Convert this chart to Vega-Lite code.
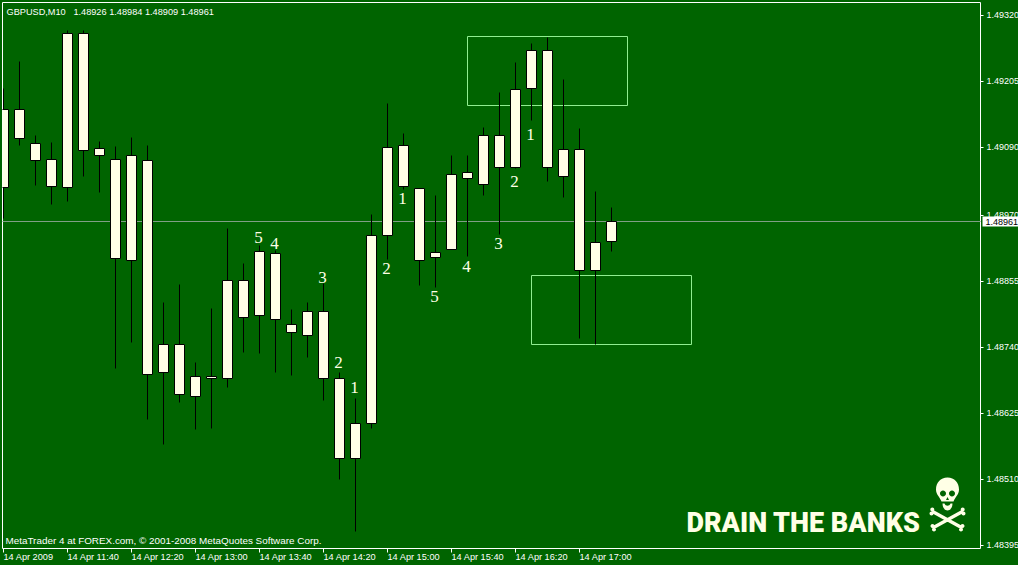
{
"$schema":"https://vega.github.io/schema/vega-lite/v6.json",
"width":978,"height":546,
"autosize":{"type":"none"},
"padding":{"left":2.5,"top":2.5,"right":37.5,"bottom":16.5},
"background":"#006400",
"view":{"fill":"#006400","stroke":null},
"config":{"font":"Liberation Sans"},
"datasets":{
"candles":[
{"t":"2009-04-14T11:00:00Z","high":1.49193,"top":1.49155,"bottom":1.49019,"low":1.48966},
{"t":"2009-04-14T11:10:00Z","high":1.49240,"top":1.49155,"bottom":1.49105,"low":1.49093},
{"t":"2009-04-14T11:20:00Z","high":1.49111,"top":1.49097,"bottom":1.49067,"low":1.49023},
{"t":"2009-04-14T11:30:00Z","high":1.49098,"top":1.49068,"bottom":1.49021,"low":1.48990},
{"t":"2009-04-14T11:40:00Z","high":1.49294,"top":1.49288,"bottom":1.49019,"low":1.48995},
{"t":"2009-04-14T11:50:00Z","high":1.49294,"top":1.49288,"bottom":1.49084,"low":1.49039},
{"t":"2009-04-14T12:00:00Z","high":1.49100,"top":1.49087,"bottom":1.49075,"low":1.49011},
{"t":"2009-04-14T12:10:00Z","high":1.49091,"top":1.49068,"bottom":1.48895,"low":1.48704},
{"t":"2009-04-14T12:20:00Z","high":1.49107,"top":1.49075,"bottom":1.48893,"low":1.48749},
{"t":"2009-04-14T12:30:00Z","high":1.49093,"top":1.49066,"bottom":1.48694,"low":1.48615},
{"t":"2009-04-14T12:40:00Z","high":1.48819,"top":1.48745,"bottom":1.48696,"low":1.48571},
{"t":"2009-04-14T12:50:00Z","high":1.48851,"top":1.48745,"bottom":1.48659,"low":1.48645},
{"t":"2009-04-14T13:00:00Z","high":1.48714,"top":1.48689,"bottom":1.48654,"low":1.48597},
{"t":"2009-04-14T13:10:00Z","high":1.48809,"top":1.48689,"bottom":1.48686,"low":1.48599},
{"t":"2009-04-14T13:20:00Z","high":1.48948,"top":1.48857,"bottom":1.48686,"low":1.48671},
{"t":"2009-04-14T13:30:00Z","high":1.48887,"top":1.48857,"bottom":1.48792,"low":1.48732},
{"t":"2009-04-14T13:40:00Z","high":1.48919,"top":1.48907,"bottom":1.48796,"low":1.48730},
{"t":"2009-04-14T13:50:00Z","high":1.48910,"top":1.48904,"bottom":1.48790,"low":1.48697},
{"t":"2009-04-14T14:00:00Z","high":1.48807,"top":1.48780,"bottom":1.48766,"low":1.48692},
{"t":"2009-04-14T14:10:00Z","high":1.48819,"top":1.48804,"bottom":1.48761,"low":1.48723},
{"t":"2009-04-14T14:20:00Z","high":1.48852,"top":1.48804,"bottom":1.48686,"low":1.48648},
{"t":"2009-04-14T14:30:00Z","high":1.48697,"top":1.48686,"bottom":1.48546,"low":1.48510},
{"t":"2009-04-14T14:40:00Z","high":1.48652,"top":1.48607,"bottom":1.48546,"low":1.48419},
{"t":"2009-04-14T14:50:00Z","high":1.48973,"top":1.48935,"bottom":1.48607,"low":1.48599},
{"t":"2009-04-14T15:00:00Z","high":1.49166,"top":1.49090,"bottom":1.48935,"low":1.48894},
{"t":"2009-04-14T15:10:00Z","high":1.49114,"top":1.49092,"bottom":1.49021,"low":1.49016},
{"t":"2009-04-14T15:20:00Z","high":1.49017,"top":1.49017,"bottom":1.48893,"low":1.48849},
{"t":"2009-04-14T15:30:00Z","high":1.49006,"top":1.48906,"bottom":1.48897,"low":1.48845},
{"t":"2009-04-14T15:40:00Z","high":1.49076,"top":1.49043,"bottom":1.48911,"low":1.48911},
{"t":"2009-04-14T15:50:00Z","high":1.49076,"top":1.49045,"bottom":1.49035,"low":1.48899},
{"t":"2009-04-14T16:00:00Z","high":1.49125,"top":1.49110,"bottom":1.49024,"low":1.49006},
{"t":"2009-04-14T16:10:00Z","high":1.49186,"top":1.49110,"bottom":1.49054,"low":1.48938},
{"t":"2009-04-14T16:20:00Z","high":1.49238,"top":1.49190,"bottom":1.49054,"low":1.49053},
{"t":"2009-04-14T16:30:00Z","high":1.49271,"top":1.49258,"bottom":1.49192,"low":1.49137},
{"t":"2009-04-14T16:40:00Z","high":1.49282,"top":1.49258,"bottom":1.49054,"low":1.49030},
{"t":"2009-04-14T16:50:00Z","high":1.49208,"top":1.49085,"bottom":1.49038,"low":1.49002},
{"t":"2009-04-14T17:00:00Z","high":1.49123,"top":1.49085,"bottom":1.48874,"low":1.48756},
{"t":"2009-04-14T17:10:00Z","high":1.49013,"top":1.48923,"bottom":1.48874,"low":1.48746},
{"t":"2009-04-14T17:20:00Z","high":1.48985,"top":1.48960,"bottom":1.48925,"low":1.48908}
],
"boxes":[
{"t1":"2009-04-14T15:50:00Z","t2":"2009-04-14T17:30:00Z","p1":1.49283,"p2":1.49162},
{"t1":"2009-04-14T16:30:00Z","t2":"2009-04-14T18:10:00Z","p1":1.48866,"p2":1.48745}
],
"waves":[
{"t":"2009-04-14T13:40:00Z","p":1.48933,"n":"5"},
{"t":"2009-04-14T13:50:00Z","p":1.48922,"n":"4"},
{"t":"2009-04-14T14:20:00Z","p":1.48863,"n":"3"},
{"t":"2009-04-14T14:30:00Z","p":1.48714,"n":"2"},
{"t":"2009-04-14T14:40:00Z","p":1.48671,"n":"1"},
{"t":"2009-04-14T15:00:00Z","p":1.48878,"n":"2"},
{"t":"2009-04-14T15:10:00Z","p":1.49001,"n":"1"},
{"t":"2009-04-14T15:30:00Z","p":1.48830,"n":"5"},
{"t":"2009-04-14T15:50:00Z","p":1.48882,"n":"4"},
{"t":"2009-04-14T16:10:00Z","p":1.48922,"n":"3"},
{"t":"2009-04-14T16:20:00Z","p":1.49030,"n":"2"},
{"t":"2009-04-14T16:30:00Z","p":1.49112,"n":"1"}
]
},
"layer":[
{"data":{"values":[{"t1":"2009-04-14T10:59:22.500Z","t2":"2009-04-14T21:10:37.500Z","p1":1.4934243,"p2":1.4838950}]},"mark":{"type":"rect","fillOpacity":0,"stroke":"#FFFFFF","strokeWidth":1,"clip":false},
 "encoding":{"x":{"field":"t1","type":"temporal","scale":{"domain":["2009-04-14T10:59:22.500Z","2009-04-14T21:10:37.500Z"]}},"x2":{"field":"t2"},"y":{"field":"p1","type":"quantitative"},"y2":{"field":"p2"}}},
{"data":{"values":[{"p":1.48961}]},"mark":{"type":"rule","color":"#7F9F85","strokeWidth":1},
 "encoding":{"y":{"field":"p","type":"quantitative"}}},
{"data":{"name":"boxes"},"mark":{"type":"rect","fillOpacity":0,"stroke":"#90EE90","strokeWidth":1},
 "encoding":{"x":{"field":"t1","type":"temporal","scale":{"domain":["2009-04-14T10:59:22.500Z","2009-04-14T21:10:37.500Z"]}},"x2":{"field":"t2"},"y":{"field":"p1","type":"quantitative"},"y2":{"field":"p2"}}},
{"data":{"name":"candles"},"mark":{"type":"rule","color":"#000000","strokeWidth":1},
 "encoding":{"x":{"field":"t","type":"temporal","scale":{"domain":["2009-04-14T10:59:22.500Z","2009-04-14T21:10:37.500Z"]}},"y":{"field":"high","type":"quantitative"},"y2":{"field":"low"}}},
{"data":{"name":"candles"},"mark":{"type":"bar","size":10,"fill":"#FFFFE6","stroke":"#000000","strokeWidth":1,"clip":true},
 "encoding":{"x":{"field":"t","type":"temporal",
   "scale":{"type":"utc","padding":0,"round":true,"domain":["2009-04-14T10:59:22.500Z","2009-04-14T21:10:37.500Z"]},
   "axis":{"orient":"bottom","title":null,"grid":false,"domain":false,"translate":0,"tickColor":"#FFFFFF","tickSize":4,"labelColor":"#FFFFFF","labelFontSize":9.2,"labelFont":"Liberation Sans","labelAlign":"left","labelBaseline":"middle","labelPadding":4,"labelFlush":false,"labelOverlap":false,
    "values":["2009-04-14T11:00:00Z","2009-04-14T11:40:00Z","2009-04-14T12:20:00Z","2009-04-14T13:00:00Z","2009-04-14T13:40:00Z","2009-04-14T14:20:00Z","2009-04-14T15:00:00Z","2009-04-14T15:40:00Z","2009-04-14T16:20:00Z","2009-04-14T17:00:00Z"],
    "labelExpr":"utchours(datum.value)==11 && utcminutes(datum.value)==0 ? '14 Apr 2009' : utcFormat(datum.value,'%d %b %H:%M')"}},
  "y":{"field":"top","type":"quantitative",
   "scale":{"domain":[1.4838950,1.4934243],"nice":false,"zero":false,"round":true},
   "axis":{"orient":"right","title":null,"grid":false,"domain":false,"translate":0,"tickColor":"#FFFFFF","tickSize":3,"labelColor":"#FFFFFF","labelFontSize":9,"labelFont":"Liberation Sans","labelPadding":3,"labelOffset":-1,"format":".5f","labelOverlap":false,"labelFlush":false,
    "values":[1.4932,1.4926,1.49205,1.49145,1.4909,1.4903,1.4897,1.48915,1.48855,1.488,1.4874,1.4868,1.48625,1.48565,1.4851,1.4845,1.48395]}},
  "y2":{"field":"bottom"}}},
{"data":{"name":"waves"},"mark":{"type":"text","font":"Liberation Serif","fontSize":17,"color":"#FFFFE6","dx":-1,"baseline":"middle"},
 "encoding":{"x":{"field":"t","type":"temporal","scale":{"domain":["2009-04-14T10:59:22.500Z","2009-04-14T21:10:37.500Z"]}},"y":{"field":"p","type":"quantitative"},"text":{"field":"n"}}},
{"data":{"values":[{"t1":"2009-04-14T21:12:00Z","t2":"2009-04-14T21:50:00Z","b":1.48969,"c":1.48952}]},"mark":{"type":"rect","fill":"#FFFFFF","clip":false},
 "encoding":{"x":{"field":"t1","type":"temporal","scale":{"domain":["2009-04-14T10:59:22.500Z","2009-04-14T21:10:37.500Z"]}},"x2":{"field":"t2"},"y":{"field":"b","type":"quantitative"},"y2":{"field":"c"}}},
{"data":{"values":[{"t":"2009-04-14T21:14:00Z","p":1.48961,"s":"1.48961"}]},"mark":{"type":"text","font":"Liberation Sans","fontSize":9,"color":"#000000","align":"left","baseline":"middle","clip":false},
 "encoding":{"x":{"field":"t","type":"temporal","scale":{"domain":["2009-04-14T10:59:22.500Z","2009-04-14T21:10:37.500Z"]}},"y":{"field":"p","type":"quantitative"},"text":{"field":"s"}}},
{"data":{"values":[{"t":"2009-04-14T11:02:10Z","p":1.49327,"s":"GBPUSD,M10\u00a0\u00a0\u00a01.48926 1.48984 1.48909 1.48961","z":9.2},{"t":"2009-04-14T11:01:15Z","p":1.48404,"s":"MetaTrader 4 at FOREX.com, © 2001-2008 MetaQuotes Software Corp.","z":9.9}]},"mark":{"type":"text","font":"Liberation Sans","color":"#FFFFFF","align":"left","baseline":"middle"},
 "encoding":{"x":{"field":"t","type":"temporal","scale":{"domain":["2009-04-14T10:59:22.500Z","2009-04-14T21:10:37.500Z"]}},"y":{"field":"p","type":"quantitative"},"text":{"field":"s"},"size":{"field":"z","type":"quantitative","scale":null}}},
{"data":{"values":[{"t":"2009-04-14T18:06:35Z","p":1.48434,"s":"DRAIN THE BANKS"}]},"mark":{"type":"text","font":"Roboto","fontWeight":900,"fontSize":27,"color":"#FFFFE6","align":"left","baseline":"middle"},
 "encoding":{"x":{"field":"t","type":"temporal","scale":{"domain":["2009-04-14T10:59:22.500Z","2009-04-14T21:10:37.500Z"]}},"y":{"field":"p","type":"quantitative"},"text":{"field":"s"}}},
{"data":{"values":[{"t":"2009-04-14T20:50:00Z","p":1.48468}]},"mark":{"type":"point","filled":true,"fill":"#FFFFE6","opacity":1,"size":4,"strokeWidth":0,
  "shape":"M0,-26 C7,-26 11.5,-21 11.5,-14 C11.5,-9 8,-7 6,-2 L-6,-2 C-8,-7 -11.5,-9 -11.5,-14 C-11.5,-21 -7,-26 0,-26 Z M-7.5,-10 A3,3 0 1 0 -1.5,-10 A3,3 0 1 0 -7.5,-10 Z M1.5,-10 A3,3 0 1 0 7.5,-10 A3,3 0 1 0 1.5,-10 Z M0,-6.5 L-1.5,-3.5 L1.5,-3.5 Z M-5,0 L-3,0 C-2,3 2,3 3,0 L5,0 C5,5 2,7 0,7 C-2,7 -5,5 -5,0 Z M-14.2,6.4 L14.8,22.4 L13.2,25.6 L-15.8,9.6 Z M-14.8,22.4 L14.2,6.4 L15.8,9.6 L-13.2,25.6 Z M-17.2,6 A2,2 0 1 1 -13.2,6 A2,2 0 1 1 -17.2,6 Z M-18,10 A2,2 0 1 1 -14,10 A2,2 0 1 1 -18,10 Z M13.2,6 A2,2 0 1 1 17.2,6 A2,2 0 1 1 13.2,6 Z M14,10 A2,2 0 1 1 18,10 A2,2 0 1 1 14,10 Z M13,22.5 A2,2 0 1 1 17,22.5 A2,2 0 1 1 13,22.5 Z M11.5,26 A2,2 0 1 1 15.5,26 A2,2 0 1 1 11.5,26 Z M-17,22.5 A2,2 0 1 1 -13,22.5 A2,2 0 1 1 -17,22.5 Z M-15.5,26 A2,2 0 1 1 -11.5,26 A2,2 0 1 1 -15.5,26 Z"},
 "encoding":{"x":{"field":"t","type":"temporal","scale":{"domain":["2009-04-14T10:59:22.500Z","2009-04-14T21:10:37.500Z"]}},"y":{"field":"p","type":"quantitative"}}}
]
}
